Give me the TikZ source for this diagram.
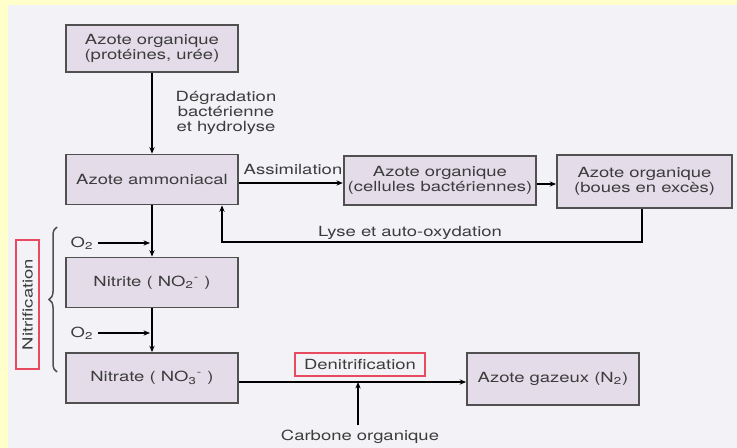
\documentclass[tikz,border=0pt]{standalone}
\usepackage{fontspec}
\setmainfont{TeX Gyre Heros}[FakeStretch=1.32]
\usetikzlibrary{arrows.meta,decorations.pathreplacing}
\definecolor{boxfill}{HTML}{E4DCE9}
\definecolor{linegray}{HTML}{505050}
\definecolor{txtgray}{HTML}{3C3C3C}
\definecolor{markred}{HTML}{E84A5F}
\definecolor{paper}{HTML}{F3F3F7}
\definecolor{edgeyellow}{HTML}{FFFFCC}
\tikzset{box/.style={draw=linegray,fill=boxfill,line width=0.9pt,align=center,
    minimum width=86pt,minimum height=25pt},
  redmark/.style={draw=markred,line width=0.6pt,minimum height=11.5pt}}

\begin{document}
\begin{tikzpicture}[x=0.5pt,y=-0.5pt,line width=0.75pt,
      every node/.style={inner sep=2pt,text=txtgray,font=\fontsize{7}{7.5}\selectfont},
      >={Stealth[length=3.2pt,width=2.6pt]}]
      \useasboundingbox(0,0)rectangle(737,448);
      % paper and scan edges
      \fill[paper](0,0)rectangle(737,448);
      \fill[edgeyellow](0,0)rectangle(8,448);
      \fill[edgeyellow](0,0)rectangle(737,5);
      % boxes
      \node[box,minimum height=23.5pt](orgprot)at(152,48.5){Azote organique\\(protéines, urée)};
      \node[box](ammon)at(152,179.5){Azote ammoniacal};
      \node[box,minimum width=92pt,minimum height=24.5pt](orgcell)at(440,180.5)
         {Azote organique\\(cellules bactériennes)};
      \node[box,minimum width=87.5pt,minimum height=26.5pt](orgboue)at(644.5,181.5)
         {Azote organique\\(boues en excès)};
      \node[box](nitrite)at(152,282.5){Nitrite ( NO\textsubscript{2}\textsuperscript{-} )};
      \node[box](nitrate)at(152,378){Nitrate ( NO\textsubscript{3}\textsuperscript{-} )};
      \node[box,minimum height=26pt](gaz)at(553,379){Azote gazeux (N\textsubscript{2})};
      % labels
      \node[align=center](degrad)at(226,113){Dégradation\\bactérienne\\et hydrolyse};
      \node(assim)at(293,170){Assimilation};
      \node(lyse)at(410,233){Lyse et auto-oxydation};
      \node(otop)at(82,243){O\textsubscript{2}};
      \node(obot)at(82,333){O\textsubscript{2}};
      \node[redmark,rotate=90,minimum width=64.5pt](nitrif)at(27.5,304.5){Nitrification};
      \node[redmark,minimum width=65pt](denitrif)at(360,364.5){Denitrification};
      \node(carbone)at(360,437){Carbone organique};
      \coordinate(lyseR)at(642,242);
      \coordinate(lyseL)at(222,242);
      \coordinate(denj)at(358,382);
      % connectors
      \draw[->](orgprot)--(ammon);
      \draw[->](ammon)--(nitrite);
      \draw[->](nitrite)--(nitrate);
      \draw[->]([yshift=-1.75pt]ammon.east)--([yshift=-1.75pt]ammon.east-|orgcell.west);
      \draw[->]([yshift=-1.75pt]orgcell.east)--([yshift=-1.75pt]orgcell.east-|orgboue.west);
      \draw[->](orgboue.south-|lyseR)--(lyseR)--(lyseL)--(lyseL|-ammon.south);
      \draw[->](otop.east)--([xshift=-1pt]otop.east-|ammon.south);
      \draw[->](obot.east)--([xshift=-1pt]obot.east-|ammon.south);
      \draw[->](nitrate.east|-denj)--(gaz.west|-denj);
      \draw[->](carbone.north-|denj)--(denj);
      \draw[linegray,decorate,decoration={brace,amplitude=4pt}](57,372)--(57,227);
    \end{tikzpicture}
\end{document}
